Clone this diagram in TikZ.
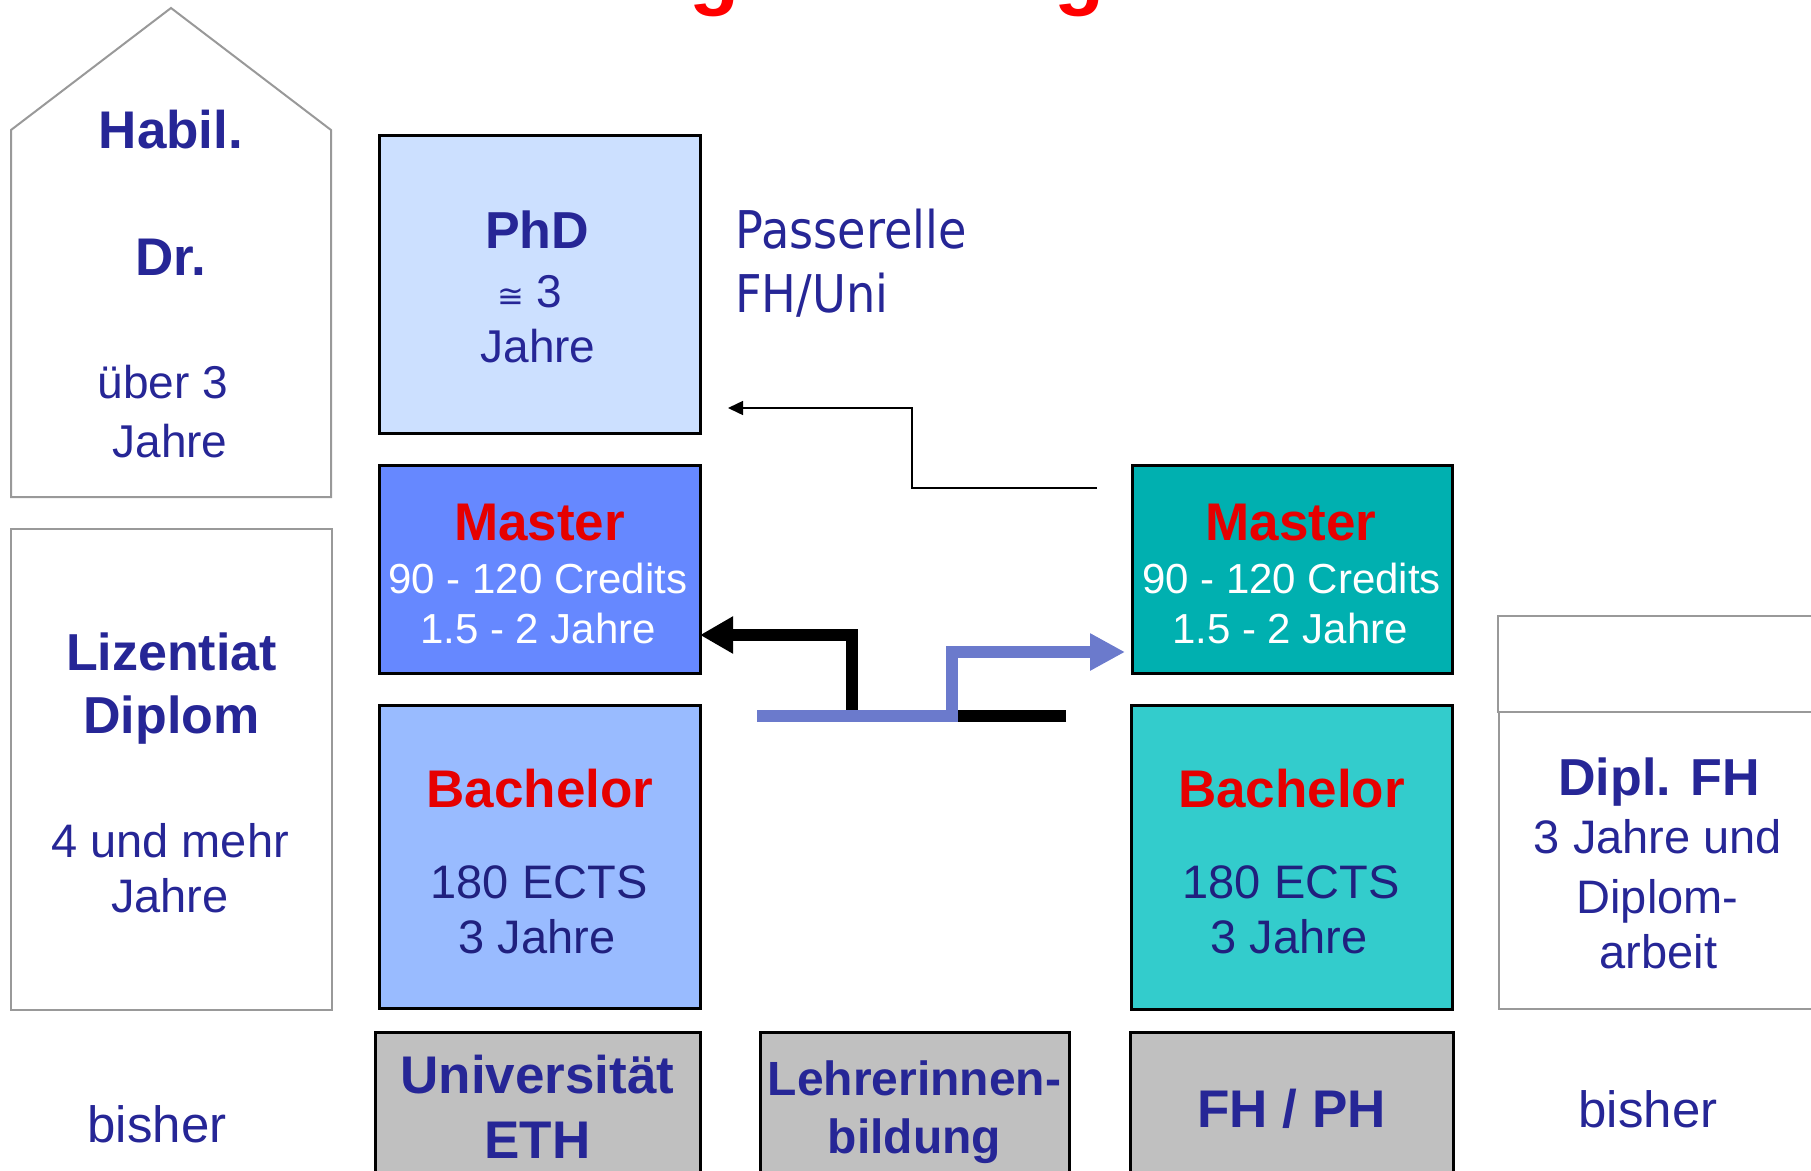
\documentclass[tikz,border=0pt]{standalone}
\usepackage{fontspec}
\setmainfont{Liberation Sans}
\newfontfamily\tahoma[FakeStretch=0.89]{DejaVu Sans}
\newfontfamily\dejavu{DejaVu Sans}
\usetikzlibrary{arrows.meta}
\definecolor{navy}{HTML}{262696}
\definecolor{navyd}{HTML}{20207E}
\definecolor{redt}{HTML}{E60000}
\definecolor{phdc}{HTML}{CCE0FF}
\definecolor{mastl}{HTML}{6688FF}
\definecolor{bachl}{HTML}{99BBFF}
\definecolor{mastr}{HTML}{00B0B0}
\definecolor{bachr}{HTML}{33CCCC}
\definecolor{greyc}{HTML}{C0C0C0}
\definecolor{edgeg}{HTML}{999999}
\definecolor{arrb}{HTML}{6B7ACC}
\newcommand\fsz[1]{\fontsize{#1}{#1}\selectfont}
\begin{document}
\begin{tikzpicture}[x=1pt,y=-1pt,
  colbox/.style={draw=black,line width=3pt,inner sep=0pt},
  graybox/.style={draw=edgeg,line width=2pt,inner sep=0pt},
  txt/.style={inner sep=0pt,anchor=base,text=navy},
  bt/.style={txt,font=\bfseries\fsz{53}},
  rt/.style={txt,font=\fsz{46}},
  redb/.style={inner sep=0pt,anchor=base,text=redt,font=\bfseries\fsz{53}},
  wt/.style={inner sep=0pt,anchor=base,text=white,font=\fsz{42}},
  line join=miter]
\useasboundingbox (0,0) rectangle (1811,1170);
\clip (0,0) rectangle (1811,1170);

% title fragments
\node[inner sep=0pt,anchor=base,text=red,font=\bfseries\fsz{82}] (g1) at (715,-1) {g};
\node[inner sep=0pt,anchor=base,text=red,font=\bfseries\fsz{82}] (g2) at (1080,-1) {g};

% house
\draw[draw=edgeg,line width=2pt] (11,497) -- (11,130) -- (171,8) -- (331,130) -- (331,497) -- cycle;
\node[bt] (habil) at (171,148) {Habil.};
\node[bt] (dr) at (171,275) {Dr.};
\node[rt] (ueber) at (163,398) {über 3};
\node[rt] (jh) at (170,457) {Jahre};

% Lizentiat
\node[graybox,minimum width=321pt,minimum height=481pt] (liz) at (171.5,769.5) {};
\node[bt,font=\bfseries\fsz{52}] (lizt) at (171.5,670) {Lizentiat};
\node[bt,font=\bfseries\fsz{52}] (dipt) at (171.5,733) {Diplom};
\node[rt,font=\fsz{47}] (lz3) at (170,857) {4 und mehr};
\node[rt,font=\fsz{47}] (lz4) at (170,912) {Jahre};
\node[rt,font=\fsz{51}] (bis1) at (157,1142) {bisher};

% University column
\node[colbox,fill=phdc,minimum width=321pt,minimum height=298pt] (phd) at (539.5,284) {};
\node[bt,font=\bfseries\fsz{52}] (phdt) at (537,248) {PhD};
\node[rt] (phd2) at (530,307) {{\dejavu\fsz{32}≅}\hspace{12pt}3};
\node[rt] (phd3) at (538,362) {Jahre};

\node[colbox,fill=mastl,minimum width=321pt,minimum height=208pt] (mL) at (539.5,569) {};
\node[redb] (mLt) at (539.5,540) {Master};
\node[wt] (mL2) at (538,593) {90 - 120 Credits};
\node[wt] (mL3) at (538,643) {1.5 - 2 Jahre};

\node[colbox,fill=bachl,minimum width=321pt,minimum height=303pt] (bL) at (539.5,856.5) {};
\node[redb] (bLt) at (540,807) {Bachelor};
\node[txt,text=navyd,font=\fsz{47}] (bL2) at (539,898) {180 ECTS};
\node[txt,text=navyd,font=\fsz{47}] (bL3) at (537,953) {3 Jahre};

\node[colbox,fill=greyc,minimum width=325pt,minimum height=168pt] (uni) at (537.5,1116) {};
\node[bt] (unit) at (537.5,1093) {Universität};
\node[bt] (eth) at (537.5,1158) {ETH};

\node[colbox,fill=greyc,minimum width=309pt,minimum height=168pt] (lehr) at (914.5,1116) {};
\node[bt,font=\bfseries\fsz{48}] (lehrt) at (914.5,1095) {Lehrerinnen-};
\node[bt,font=\bfseries\fsz{48}] (bild) at (914.5,1153) {bildung};

% Passerelle
\node[inner sep=0pt,anchor=base west,text=navy,font=\tahoma\fsz{52}] (pas1) at (735,248) {Passerelle};
\node[inner sep=0pt,anchor=base west,text=navy,font=\tahoma\fsz{52}] (pas2) at (735,312) {FH/Uni};

% FH column
\node[colbox,fill=mastr,minimum width=320pt,minimum height=208pt] (mR) at (1292,569) {};
\node[redb] (mRt) at (1291,540) {Master};
\node[wt] (mR2) at (1291.5,593) {90 - 120 Credits};
\node[wt] (mR3) at (1290,643) {1.5 - 2 Jahre};

\node[colbox,fill=bachr,minimum width=321pt,minimum height=304pt] (bR) at (1291.5,857) {};
\node[redb] (bRt) at (1291.5,807) {Bachelor};
\node[txt,text=navyd,font=\fsz{47}] (bR2) at (1291,898) {180 ECTS};
\node[txt,text=navyd,font=\fsz{47}] (bR3) at (1289,953) {3 Jahre};

\node[colbox,fill=greyc,minimum width=323pt,minimum height=168pt] (fhph) at (1291.5,1116) {};
\node[bt] (fhpht) at (1291.5,1127) {FH / PH};

% Dipl FH
\node[graybox,minimum width=332pt,minimum height=96pt] (dtop) at (1664,664) {};
\node[graybox,minimum width=331pt,minimum height=297pt] (dbot) at (1664.5,860.5) {};
\node[bt,font=\bfseries\fsz{52}] (dfh) at (1659,795) {Dipl. FH};
\node[rt,font=\fsz{47}] (df2) at (1658,853) {3 Jahre und};
\node[rt,font=\fsz{47}] (df3) at (1657.5,913) {Diplom-};
\node[rt,font=\fsz{47}] (df4) at (1658.5,968) {arbeit};
\node[rt,font=\fsz{51}] (bis2) at (1648,1127) {bisher};

% connectors
\coordinate (t1) at (1097,488);
\coordinate (t2) at (728,408);
\draw[line width=1.5pt,-{Triangle[length=15pt,width=14pt]}] (t1) -- ++(-185,0) |- (t2);

\coordinate (k1) at (1066,716);
\coordinate (k2) at (700,635);
\draw[line width=11.7pt,-{Triangle[length=33pt,width=35pt]}] (k1) -- ++(-214,0) |- (k2);

\coordinate (u1) at (757,716);
\coordinate (u2) at (1125,652);
\draw[draw=arrb,line width=11.3pt,-{Triangle[length=35pt,width=35pt]},arrb] (u1) -- ++(195,0) |- (u2);
\end{tikzpicture}
\end{document}
